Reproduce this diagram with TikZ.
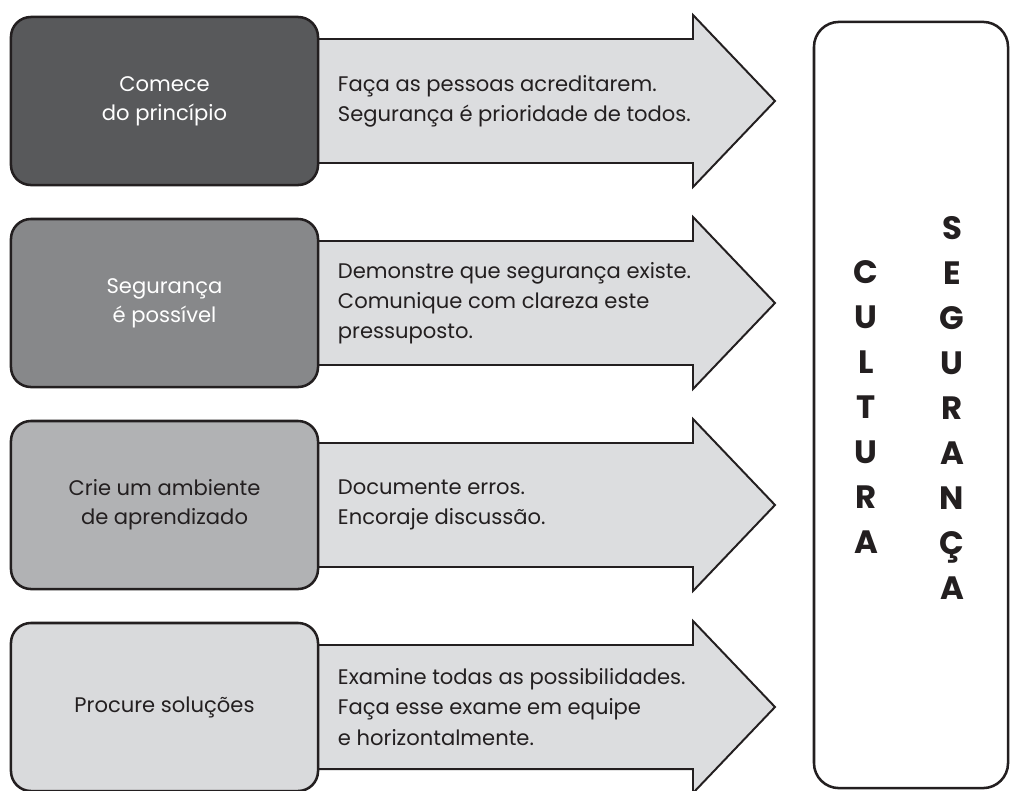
\documentclass[tikz,border=0pt]{standalone}
\usepackage{fontspec}
\setmainfont{Poppins}
\definecolor{ink}{HTML}{231F20}
\definecolor{shadeA}{HTML}{58595B}
\definecolor{shadeB}{HTML}{87888A}
\definecolor{shadeC}{HTML}{B1B2B4}
\definecolor{shadeD}{HTML}{D9DADC}
\definecolor{arrowfill}{HTML}{DCDDDF}

\begin{document}
\begin{tikzpicture}[x=0.025cm,y=-0.025cm,
  bigarrow/.style={draw=ink,fill=arrowfill,line width=1.4pt,line join=miter},
  stagebox/.style={draw=ink,line width=1.8pt,rounded corners=0.5cm,minimum width=7.675cm,minimum height=4.2cm,align=center,font=\fontsize{15}{20.5}\selectfont},
  note/.style={anchor=west,align=left,text=ink,font=\fontsize{15}{21.5}\selectfont},
  column/.style={align=center,text=ink,font=\bfseries\fontsize{23}{32}\selectfont}]
\useasboundingbox (0,0) rectangle (1010,790);
% arrows
\draw[bigarrow] (300,39)--(693,39)--(693,15)--(775,101)--(693,187)--(693,163)--(300,163)--cycle;
\draw[bigarrow] (300,241)--(693,241)--(693,217)--(775,303)--(693,389)--(693,365)--(300,365)--cycle;
\draw[bigarrow] (300,443)--(693,443)--(693,419)--(775,505)--(693,591)--(693,567)--(300,567)--cycle;
\draw[bigarrow] (300,645)--(693,645)--(693,621)--(775,707)--(693,793)--(693,769)--(300,769)--cycle;
% boxes on the left
\node[stagebox,fill=shadeA,text=white] (start) at (164.5,101) {Comece\\do princípio};
\node[stagebox,fill=shadeB,text=white] (possible) at (164.5,303) {Segurança\\é possível};
\node[stagebox,fill=shadeC,text=ink] (learning) at (164.5,505) {Crie um ambiente\\de aprendizado};
\node[stagebox,fill=shadeD,text=ink] (solutions) at (164.5,707) {Procure soluções};
% texts in the arrows
\node[note] (believe) at (333,101) {Faça as pessoas acreditarem.\\Segurança é prioridade de todos.};
\node[note] (show) at (333,303) {Demonstre que segurança existe.\\Comunique com clareza este\\pressuposto.};
\node[note] (errors) at (333,505) {Documente erros.\\Encoraje discussão.};
\node[note] (examine) at (333,707) {Examine todas as possibilidades.\\Faça esse exame em equipe\\e horizontalmente.};
% culture box
\node[draw=ink,line width=1.8pt,rounded corners=0.625cm,minimum width=4.85cm,minimum height=19.15cm] (culture) at (911,405) {};
\node[column] (cultura) at (866,407.5) {C\\U\\L\\T\\U\\R\\A};
\node[column] (seguranca) at (952,407.5) {S\\E\\G\\U\\R\\A\\N\\Ç\\A};
\end{tikzpicture}
\end{document}
